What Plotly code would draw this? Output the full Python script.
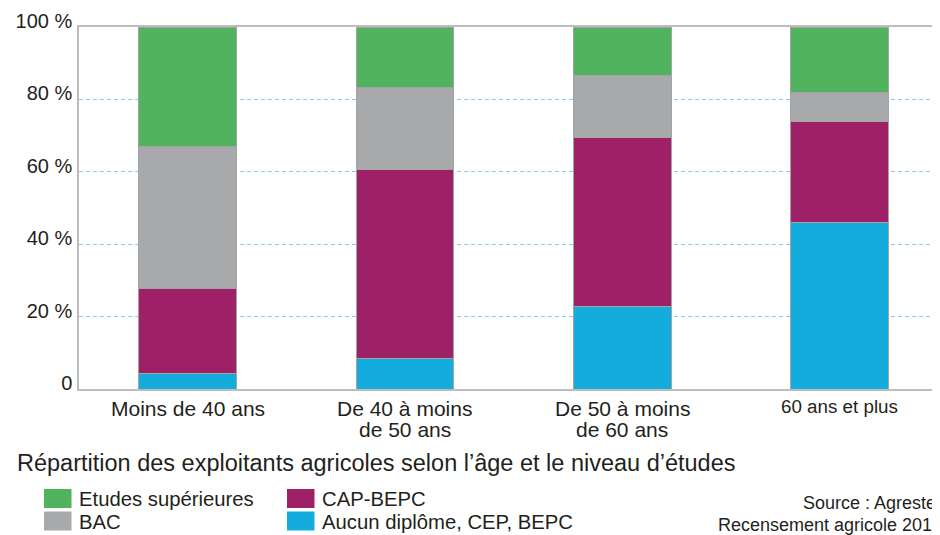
import plotly.graph_objects as go

# ---- data ----
categories = ["Moins de 40 ans", "De 40 à moins<br>de 50 ans", "De 50 à moins<br>de 60 ans", "60 ans et plus"]
aucun_diplome = [4.4, 8.5, 22.9, 45.9]
cap_bepc = [23.5, 52.0, 46.6, 27.9]
bac = [39.2, 22.9, 17.2, 8.1]
etudes_sup = [32.9, 16.6, 13.3, 18.1]
y_tickvals = [0, 20, 40, 60, 80, 100]
y_ticktext = ["0", "20 %", "40 %", "60 %", "80 %", "100 %"]
title_text = "Répartition des exploitants agricoles selon l’âge et le niveau d’études"
source_lines = ["Source : Agreste", "Recensement agricole 2010"]

# ---- styles ----
# the page body has an 8px margin, so the figure is drawn 8px smaller
OFF = 8
W, H = 940 - OFF, 535 - OFF
ML, MT, MB, MR = 79 - OFF, 27 - OFF, 146, 0
PW, PH = W - ML - MR, H - MT - MB
FONT = "Liberation Sans, Arial, sans-serif"
TXT = "#231f20"
colors = {
    "Aucun diplôme, CEP, BEPC": "#13acdd",
    "CAP-BEPC": "#9e2067",
    "BAC": "#a8a9ab",
    "Etudes supérieures": "#52b35e",
}

def px(x):  # reference-page pixel -> paper x
    return (x - OFF - ML) / PW

def py(y):  # reference-page pixel -> paper y
    return (MT + PH - (y - OFF)) / PH

series = [
    ("Aucun diplôme, CEP, BEPC", aucun_diplome),
    ("CAP-BEPC", cap_bepc),
    ("BAC", bac),
    ("Etudes supérieures", etudes_sup),
]

xidx = list(range(len(categories)))
fig = go.Figure()
for name, vals in series:
    fig.add_trace(go.Bar(
        x=xidx, y=vals, name=name, width=0.45,
        marker=dict(color=colors[name], line=dict(color="#a3a3a3", width=1)),
        showlegend=False,
    ))

annotations = []
# category labels
for i, lab in enumerate(categories):
    lines = lab.split("<br>")
    size = 18.8 if i == 3 else 21
    for j, line in enumerate(lines):
        annotations.append(dict(
            x=i, xref="x", y=0, yref="paper", text=line, showarrow=False,
            xanchor="center", yanchor="middle", borderpad=0,
            yshift=(-17 if i == 3 else -19) - j * 21,
            font=dict(size=size, color=TXT, family=FONT),
        ))

# title
annotations.append(dict(
    x=px(15), xref="paper", y=py(463), yref="paper", text=title_text,
    showarrow=False, xanchor="left", yanchor="middle",
    font=dict(size=23.5, color=TXT, family=FONT),
))

# legend (custom)
legend_pos = [
    ("Etudes supérieures", 44, 489),
    ("BAC", 44, 511.5),
    ("CAP-BEPC", 287, 489),
    ("Aucun diplôme, CEP, BEPC", 287, 511.5),
]
shapes = []
for name, lx, ly in legend_pos:
    shapes.append(dict(
        type="rect", xref="paper", yref="paper",
        x0=px(lx), x1=px(lx + 27.5), y0=py(ly), y1=py(ly + 19),
        fillcolor=colors[name], line=dict(width=0),
    ))
    annotations.append(dict(
        x=px(lx + 33), xref="paper", y=py(ly + 10), yref="paper", text=name,
        showarrow=False, xanchor="left", yanchor="middle",
        font=dict(size=20.3, color=TXT, family=FONT),
    ))

# source
annotations.append(dict(
    x=px(938), xref="paper", y=py(503), yref="paper", text=source_lines[0],
    showarrow=False, xanchor="right", yanchor="middle",
    font=dict(size=18, color=TXT, family=FONT),
))
annotations.append(dict(
    x=px(716), xref="paper", y=py(525), yref="paper", text=source_lines[1],
    showarrow=False, xanchor="left", yanchor="middle",
    font=dict(size=18, color=TXT, family=FONT),
))

fig.update_layout(
    width=W, height=H,
    margin=dict(l=ML, r=MR, t=MT, b=MB, pad=0),
    barmode="stack",
    plot_bgcolor="white", paper_bgcolor="white",
    font=dict(family=FONT, color=TXT),
    annotations=annotations,
    shapes=shapes,
    showlegend=False,
)
fig.update_xaxes(
    range=[-0.5, -0.5 + PW / 217.3], showticklabels=False, showgrid=False,
    zeroline=False, showline=True, linecolor="#bdbdbd", linewidth=1.5, mirror=True,
    ticks="",
)
fig.update_yaxes(
    range=[0, 100], tickvals=y_tickvals, ticktext=y_ticktext,
    showgrid=True, gridcolor="#84cfee", gridwidth=1, griddash="4px,3px",
    zeroline=False, showline=True, linecolor="#bdbdbd", linewidth=1.5,
    ticks="", tickfont=dict(size=20, color=TXT, family=FONT),
    ticklabelstandoff=1, ticklabelshift=-6,
)

fig.write_html("out.html")
